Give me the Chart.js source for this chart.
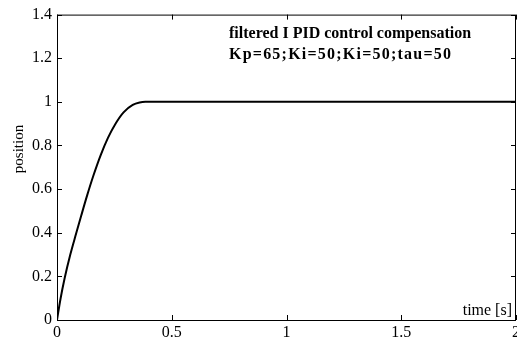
<!DOCTYPE html>
<html>
<head>
<meta charset="utf-8">
<script src="https://cdn.jsdelivr.net/npm/chart.js@4.4.0/dist/chart.umd.min.js"></script>
<style>
  body { margin: 0; background: #fff; }
  #wrap { width: 517px; height: 340px; }
</style>
</head>
<body>
<div id="wrap"><canvas id="posChart"></canvas></div>
<script>
// step response
var timeS = [0, 0.015, 0.033, 0.058, 0.083, 0.106, 0.131, 0.158, 0.19, 0.222, 0.255, 0.29, 0.33, 0.36, 0.385, 1, 1.5, 2];
var position = [0, 0.095, 0.19, 0.3, 0.395, 0.48, 0.57, 0.66, 0.755, 0.835, 0.9, 0.952, 0.986, 0.997, 1, 1, 1, 1];
var xTicks = [0, 0.5, 1, 1.5, 2];
var yTicks = [0, 0.2, 0.4, 0.6, 0.8, 1, 1.2, 1.4];
var titleLines = ['filtered I PID control compensation', 'Kp=65;Ki=50;Ki=50;tau=50'];

var pts = [];
for (var i = 0; i < timeS.length; i++) {
  pts.push({x: timeS[i], y: position[i]});
}

var serif = '"Liberation Serif", "DejaVu Serif", serif';

// draw text stretched out to a given width
function spreadText(ctx, txt, x, y, width) {
  var w = ctx.measureText(txt).width;
  var sp = (width - w) / (txt.length - 1);
  ctx.letterSpacing = (sp > 0 ? sp : 0) + 'px';
  ctx.fillText(txt, x, y);
  ctx.letterSpacing = '0px';
}

// box, inward ticks and text like the matlab figure
var boxPlugin = {
  id: 'box',
  afterDraw: function(chart) {
    var ctx = chart.ctx;
    var a = chart.chartArea;
    var xs = chart.scales.x, ys = chart.scales.y;
    ctx.save();
    ctx.strokeStyle = '#000';
    ctx.lineWidth = 1;
    ctx.strokeRect(a.left + 0.5, a.top + 0.5, a.right - a.left - 1, a.bottom - a.top);
    ctx.beginPath();
    xTicks.forEach(function(v) {
      var px = Math.round(xs.getPixelForValue(v)) + 0.5;
      ctx.moveTo(px, a.bottom); ctx.lineTo(px, a.bottom - 5);
      ctx.moveTo(px, a.top); ctx.lineTo(px, a.top + 5);
    });
    yTicks.forEach(function(v) {
      var py = Math.round(ys.getPixelForValue(v)) + 0.5;
      ctx.moveTo(a.left, py); ctx.lineTo(a.left + 5, py);
      ctx.moveTo(a.right, py); ctx.lineTo(a.right - 5, py);
    });
    ctx.stroke();

    ctx.fillStyle = '#000';
    ctx.textBaseline = 'middle';
    ctx.textAlign = 'left';
    ctx.font = 'bold 16px ' + serif;
    spreadText(ctx, titleLines[0], 229, 34, 242);
    spreadText(ctx, titleLines[1], 229, 55, 222);

    ctx.font = '16px ' + serif;
    ctx.textAlign = 'right';
    ctx.textBaseline = 'alphabetic';
    ctx.fillText('time [s]', 512, 315);

    ctx.translate(19, 149);
    ctx.rotate(-Math.PI / 2);
    ctx.textAlign = 'center';
    ctx.textBaseline = 'middle';
    ctx.font = '15px ' + serif;
    ctx.fillText('position', 0, 0);
    ctx.restore();
  }
};

new Chart(document.getElementById('posChart'), {
  type: 'line',
  data: {
    datasets: [{
      data: pts,
      borderColor: '#000',
      borderWidth: 2,
      pointRadius: 0,
      cubicInterpolationMode: 'monotone',
      fill: false
    }]
  },
  options: {
    responsive: true,
    maintainAspectRatio: false,
    animation: false,
    layout: { padding: { top: 14, right: 1, left: 0, bottom: 0 } },
    plugins: { legend: { display: false }, tooltip: { enabled: false } },
    scales: {
      x: {
        type: 'linear',
        min: 0, max: 2,
        afterBuildTicks: function(s) { s.ticks = xTicks.map(function(v) { return {value: v}; }); },
        afterFit: function(s) {
          s.height = 20;
          // let the last label hang off the edge like the original
          s.paddingLeft = 0;
          s.paddingRight = 0;
        },
        grid: { display: false, drawTicks: false },
        border: { display: false },
        ticks: {
          color: '#000',
          padding: 3,
          maxRotation: 0,
          font: { family: serif, size: 16 },
          callback: function(v) { return String(v); }
        }
      },
      y: {
        min: 0, max: 1.4,
        afterBuildTicks: function(s) { s.ticks = yTicks.map(function(v) { return {value: v}; }); },
        afterFit: function(s) { s.width = 57; },
        grid: { display: false, drawTicks: false },
        border: { display: false },
        ticks: {
          color: '#000',
          padding: 5,
          font: { family: serif, size: 16 },
          callback: function(v) { return String(Math.round(v * 10) / 10); }
        }
      }
    }
  },
  plugins: [boxPlugin]
});
</script>
</body>
</html>
